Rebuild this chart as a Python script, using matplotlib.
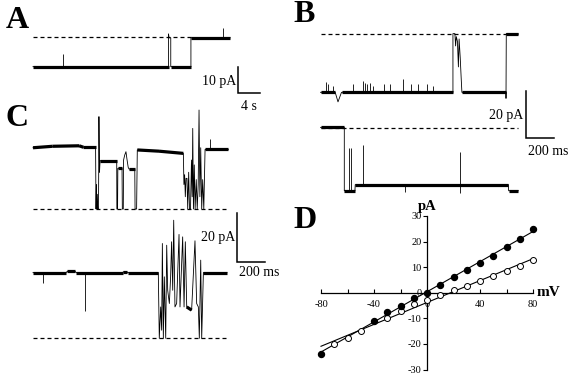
import numpy as np
import matplotlib
matplotlib.use("Agg")
import matplotlib.pyplot as plt

plt.rcParams['font.family'] = ['Liberation Serif', 'DejaVu Serif']
plt.rcParams['axes.unicode_minus'] = False

# ---- data --------------------------------------------------------------
# A: time (s), current (pA); dashed line = closed level
A_t = [0, 24.2, 24.2, 24.3, 24.6, 24.6, 28.2, 28.2, 35.2]
A_i = [-11.6, -11.6, 1.0, -0.5, -0.5, -11.6, -11.6, -0.5, -0.5]
A_spk_t = [5.4, 33.9]
A_spk_i = [-6.7, 3.3]
A_dash = (0, 28.2)

# B: time (ms), current (pA); two sweeps
B1_t = [0, 105, 125, 150, 946, 946, 960, 965, 970, 978, 985, 990, 998, 1005,
        1010, 1325, 1325, 1327, 1411]
B1_i = [-24.9, -24.9, -29.0, -24.9, -24.9, 0.3, 0.3, -5, -1, -3, -14, -2, -10,
        -19, -24.9, -24.9, -27.5, 0.3, 0.3]
B1_spk_t = [39, 51, 90, 233, 305, 318, 333, 354, 373, 454, 496, 590, 644, 697,
            758, 804]
B1_spk_i = [-20.5, -21.5, -22, -21.5, -20, -21, -21.5, -21, -22, -21.5, -21.5,
            -19, -21.5, -21.5, -21.5, -22]
B1_dash = (5, 1411)

B2_t = [0, 170, 170, 246, 248, 1342, 1344, 1413]
B2_i = [0.4, 0.4, -26.8, -26.8, -24.2, -24.2, -26.8, -26.8]
B2_spk_t = [206, 218, 301, 603, 996, 996]
B2_spk_i = [-8.6, -8.6, -7.2, -27.5, -10.0, -27.7]
B2_dash = (5, 1413)

# C: time (ms), current (pA); two sweeps
C1_t = [0, 140, 330, 360, 447, 450, 453, 456, 459, 462, 468, 471, 475, 479,
        598, 599, 604, 606, 636, 638, 645, 647, 655, 664, 672, 680, 686, 727,
        729, 740, 745, 900, 1074, 1078, 1083, 1088, 1093, 1100, 1105, 1112,
        1118, 1125, 1132, 1137, 1141, 1146, 1152, 1158, 1166, 1173, 1180,
        1186, 1192, 1198, 1205, 1212, 1220, 1229, 1395]
C1_i = [25.0, 25.6, 25.8, 25.2, 25.2, 0, 10, 0, 6, 0, 0, 37.7, 15, 19.7,
        19.7, 0, 0, 16.6, 16.6, 0, 0, 20, 22, 23.4, 20, 17, 16.3, 16.3,
        0, 0, 24.1, 23.6, 22.7, 10, 14, 5, 12.5, 12.5, 0, 15,
        0, 0, 20, 5, 32.9, 0, 18, 0, 12, 0, 10,
        40.4, 5, 25, 0, 12, 0, 24.3, 24.3]
C1_spk_t = [1264]
C1_spk_i = [28.4]
C1_dash = (0, 1395)

C2_t = [0, 235, 245, 300, 310, 640, 645, 670, 675, 895, 902, 912, 919, 924,
        931, 938, 948, 955, 962, 974, 983, 990, 998, 1005, 1014, 1026, 1043,
        1050, 1069, 1079, 1088, 1098, 1133, 1157, 1169, 1181, 1188, 1198,
        1205, 1217, 1385]
C2_i = [26.8, 26.8, 27.3, 27.3, 26.8, 26.8, 27.1, 27.1, 26.8, 26.8, 0, 12.8,
        3.3, 38.7, 0, 25.1, 0, 38.0, 19.6, 14.2, 25.1, 39.4, 19.6, 48.2, 12.8,
        14.2, 42.4, 12.8, 41.4, 12.8, 39.4, 12.8, 11.5, 39.8, 14.2, 12.8, 0,
        31.9, 0, 26.8, 26.8]
C2_spk_t = [74, 371]
C2_spk_i = [22.7, 11.3]
C2_dash = (0, 1395)

# D: I-V relation (mV, pA)
D_filled_v = [-80, -40, -30, -20, -10, 0, 10, 20, 30, 40, 50, 60, 70, 80]
D_filled_i = [-24.0, -11.0, -7.5, -5.0, -2.1, 0.0, 3.1, 6.0, 8.9, 11.7, 14.5,
              17.7, 21.1, 24.7]
D_open_v = [-70, -60, -50, -30, -20, -10, 0, 10, 20, 30, 40, 50, 60, 70, 80]
D_open_i = [-20.2, -17.7, -14.8, -9.9, -7.2, -4.4, -2.8, -1.0, 0.9, 2.7, 4.6,
            6.5, 8.5, 10.5, 12.6]

# ---- layout -------------------------------------------------------------
W, H = 571, 376
fig = plt.figure(figsize=(W / 100, H / 100), dpi=100)

DASH = (0, (3.2, 2.4))


def trace_axes(x0, y0, sx, sy, tlim, ilim, off=True):
    # x0, y0: pixel of (t=0, I=0) from top-left; sx, sy: pixels per unit
    left, right = x0 + tlim[0] * sx, x0 + tlim[1] * sx
    top, bottom = y0 - ilim[1] * sy, y0 - ilim[0] * sy
    ax = fig.add_axes([left / W, 1 - bottom / H, (right - left) / W,
                       (bottom - top) / H])
    ax.set_xlim(tlim)
    ax.set_ylim(ilim)
    if off:
        ax.axis('off')
    return ax


def draw_trace(ax, t, i, spk_t, spk_i, dash, flat_dt):
    t = np.asarray(t, float)
    i = np.asarray(i, float)
    ax.plot(dash, [0, 0], ls=DASH, lw=0.9, color='k', clip_on=False)
    ax.plot(t, i, color='k', lw=0.6, clip_on=False)
    # noisy open/closed levels drawn as a thicker band
    flat = (np.diff(t) > flat_dt) & (np.abs(np.diff(i)) < 1.5)
    for k in np.where(flat)[0]:
        ax.plot(t[k:k + 2], i[k:k + 2], color='k', lw=2.3,
                solid_capstyle='butt', clip_on=False)
    if len(spk_t):
        base = np.interp(spk_t, t, i)
        ax.vlines(spk_t, base, spk_i, color='k', lw=0.6, clip_on=False)


def scale_bar(ax, t0, i0, dt, di):
    ax.plot([t0, t0, t0 + dt], [i0, i0 - di, i0 - di], color='k', lw=1.1,
            solid_joinstyle='miter', clip_on=False)


def ftext(x, y, s, **kw):
    fig.text(x / W, 1 - y / H, s, **kw)


# A
axA = trace_axes(33, 36.5, 5.6, 2.6, (0, 42), (-23, 4))
draw_trace(axA, A_t, A_i, A_spk_t, A_spk_i, A_dash, 0.8)
scale_bar(axA, 36.6, -11.7, 4, 10)
ftext(236, 82, "10 pA", ha='right', va='center', fontsize=10)
ftext(249, 106, "4 s", ha='center', va='center', fontsize=10)

# B
axB1 = trace_axes(320.5, 34.3, 0.14, 2.33, (0, 1700), (-47, 3))
draw_trace(axB1, B1_t, B1_i, B1_spk_t, B1_spk_i, B1_dash, 20)
scale_bar(axB1, 1470, -24.5, 200, 20)
axB2 = trace_axes(320.5, 128.3, 0.14, 2.33, (0, 1500), (-30, 3))
draw_trace(axB2, B2_t, B2_i, B2_spk_t, B2_spk_i, B2_dash, 20)
ftext(523, 116, "20 pA", ha='right', va='center', fontsize=10)
ftext(528, 151, "200 ms", ha='left', va='center', fontsize=10)

# C
axC1 = trace_axes(33, 209, 0.14, 2.45, (0, 1700), (-23, 42))
draw_trace(axC1, C1_t, C1_i, C1_spk_t, C1_spk_i, C1_dash, 20)
scale_bar(axC1, 1459, -1.8, 200, 20)
axC2 = trace_axes(33, 338.3, 0.14, 2.45, (0, 1500), (-2, 50))
draw_trace(axC2, C2_t, C2_i, C2_spk_t, C2_spk_i, C2_dash, 20)
ftext(235, 237, "20 pA", ha='right', va='center', fontsize=10)
ftext(239, 273, "200 ms", ha='left', va='center', fontsize=10)

# D
axD = trace_axes(427, 292.7, 1.325, 2.56, (-80, 80), (-30, 30), off=False)
axD.set_facecolor('none')
for s in ['top', 'right']:
    axD.spines[s].set_visible(False)
axD.spines['left'].set_position(('data', 0))
axD.spines['bottom'].set_position(('data', 0))
for s in ['left', 'bottom']:
    axD.spines[s].set_linewidth(0.9)
axD.set_xticks([-80, -40, 0, 40, 80])
axD.set_xticks([-60, -20, 20, 60], minor=True)
axD.set_yticks(np.arange(-30, 31, 10))
axD.tick_params(axis='x', which='both', direction='in', length=3, width=0.8,
                labelsize=7.5, pad=5)
axD.tick_params(axis='y', direction='out', length=3, width=0.8,
                labelsize=7.5, pad=1)
vv = np.array([-80, 80])
for v, i in [(D_filled_v, D_filled_i), (D_open_v, D_open_i)]:
    p = np.polyfit(v, i, 1)
    axD.plot(vv, np.polyval(p, vv), color='k', lw=0.8, clip_on=False)
axD.plot(D_open_v, D_open_i, 'o', ms=4.3, mfc='white', mec='k', mew=0.7,
         clip_on=False, zorder=3)
axD.plot(D_filled_v, D_filled_i, 'o', ms=4.3, mfc='k', mec='k',
         clip_on=False, zorder=4)
ftext(427, 207, "pA", ha='center', va='center', fontsize=10.5,
      fontweight='bold')
ftext(537, 292, "mV", ha='left', va='center', fontsize=11, fontweight='bold')

# panel letters
for x, y, s in [(17, 20, "A"), (304, 15, "B"), (17, 118, "C"),
                (305, 221, "D")]:
    ftext(x, y, s, ha='center', va='center', fontsize=23, fontweight='bold')

fig.savefig("out.png", dpi=100)
